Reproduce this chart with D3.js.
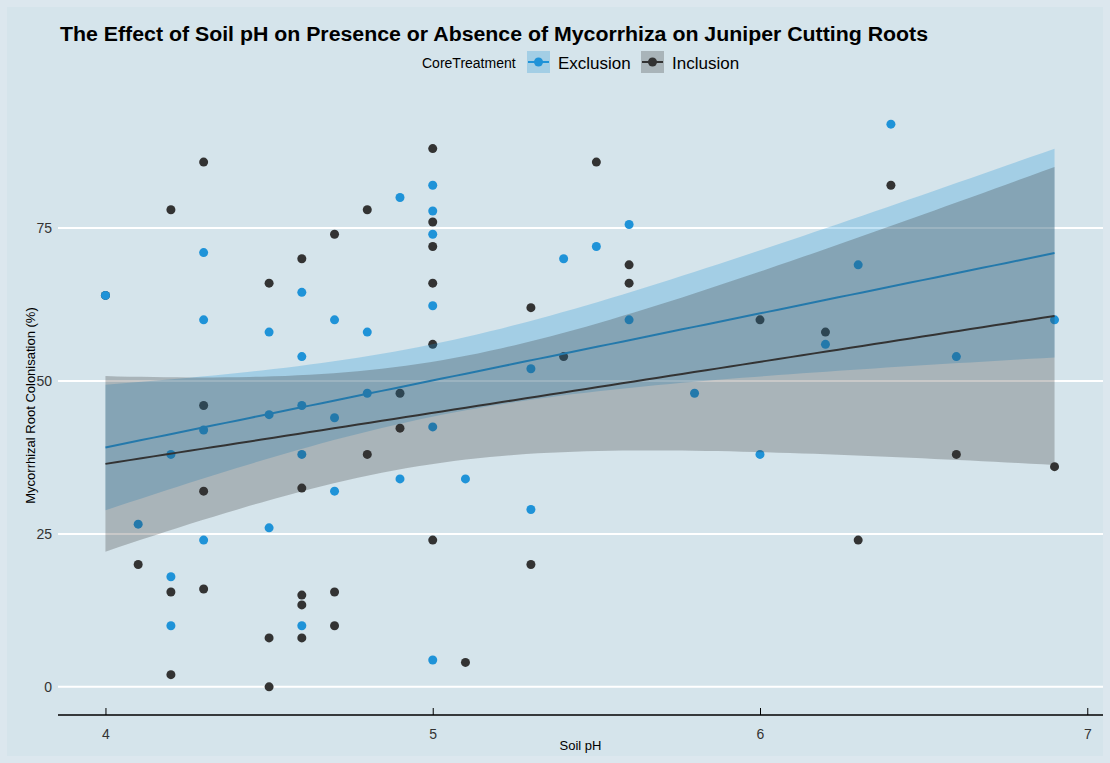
<!DOCTYPE html>
<html>
<head>
<meta charset="utf-8">
<script src="https://cdn.jsdelivr.net/npm/d3@7"></script>
<style>
  body { margin: 0; background: #dce7ee; }
  svg { display: block; font-family: "Liberation Sans", Arial, sans-serif; }
</style>
</head>
<body>
<div id="chart"></div>
<script>
const width = 1110;
const height = 763;

// data
const groups = ["Exclusion", "Inclusion"];
const groupColors = ["#1f93d8", "#333333"];

const exclusionPH = [4.0, 4.1, 4.2, 4.2, 4.2, 4.3, 4.3, 4.3, 4.3, 4.5, 4.5, 4.5,
    4.6, 4.6, 4.6, 4.6, 4.6, 4.7, 4.7, 4.7, 4.8, 4.8, 4.9, 4.9,
    5.0, 5.0, 5.0, 5.0, 5.0, 5.0, 5.1, 5.3, 5.3, 5.4, 5.5, 5.6, 5.6,
    5.8, 6.0, 6.2, 6.3, 6.4, 6.6, 6.9];
const exclusionCol = [64, 26.6, 38, 18, 10, 71, 60, 42, 24, 58, 44.5, 26,
    64.5, 54, 46, 38, 10, 60, 44, 32, 58, 48, 80, 34,
    82, 77.8, 74, 62.3, 42.5, 4.4, 34, 52, 29, 70, 72, 75.6, 60,
    48, 38, 56, 69, 92, 54, 60];

// the first inclusion point sits under the blue one at pH 4
const inclusionPH = [4.0, 4.1, 4.2, 4.2, 4.2, 4.3, 4.3, 4.3, 4.3, 4.5, 4.5, 4.5,
    4.6, 4.6, 4.6, 4.6, 4.6, 4.7, 4.7, 4.7, 4.8, 4.8, 4.9, 4.9,
    5.0, 5.0, 5.0, 5.0, 5.0, 5.0, 5.1, 5.3, 5.3, 5.4, 5.5, 5.6, 5.6,
    6.0, 6.2, 6.3, 6.4, 6.6, 6.9];
const inclusionCol = [64, 20, 78, 15.5, 2, 85.8, 46, 32, 16, 66, 8, 0,
    70, 32.5, 15, 13.4, 8, 74, 15.5, 10, 78, 38, 48, 42.3,
    88, 76, 72, 66, 56, 24, 4, 62, 20, 54, 85.8, 69, 66,
    60, 58, 24, 82, 38, 36];

const xTicks = [4, 5, 6, 7];
const yTicks = [0, 25, 50, 75];

const series = [
    { name: groups[0], color: groupColors[0], x: exclusionPH, y: exclusionCol },
    { name: groups[1], color: groupColors[1], x: inclusionPH, y: inclusionCol }
];

const panel = { left: 58, right: 1103, top: 96, bottom: 715 };

const svg = d3.select("#chart")
    .append("svg")
    .attr("width", width)
    .attr("height", height);

svg.append("rect")
    .attr("x", 7).attr("y", 7)
    .attr("width", width - 14).attr("height", height - 14)
    .attr("fill", "#d5e4eb");

const allX = exclusionPH.concat(inclusionPH);
const allY = exclusionCol.concat(inclusionCol);
const xMin = d3.min(allX), xMax = d3.max(allX);
const yMin = d3.min(allY), yMax = d3.max(allY);
const xPad = (xMax - xMin) * 0.05, yPad = (yMax - yMin) * 0.05;

const x = d3.scaleLinear()
    .domain([xMin - xPad, xMax + xPad])
    .range([panel.left, panel.right - 1]);
const y = d3.scaleLinear()
    .domain([yMin - yPad, yMax + yPad])
    .range([panel.bottom, panel.top]);

// gridlines
svg.append("g")
    .selectAll("line")
    .data(yTicks)
    .join("line")
    .attr("x1", panel.left).attr("x2", panel.right)
    .attr("y1", d => y(d)).attr("y2", d => y(d))
    .attr("stroke", "#ffffff")
    .attr("stroke-width", 2);

// y tick labels
svg.append("g")
    .selectAll("text")
    .data(yTicks)
    .join("text")
    .attr("x", 52)
    .attr("y", d => y(d) + 5)
    .attr("text-anchor", "end")
    .attr("font-size", 14)
    .attr("fill", "#333")
    .text(d => d);

// x axis
const xAxis = svg.append("g")
    .attr("transform", `translate(0,${panel.bottom})`)
    .call(d3.axisBottom(x).tickValues(xTicks).tickSize(-7).tickPadding(14).tickFormat(d3.format("d")));
xAxis.select(".domain").attr("d", `M${panel.left},0H${panel.right}`).attr("stroke", "#000").attr("stroke-width", 1.5);
xAxis.selectAll(".tick line").attr("stroke", "#000");
xAxis.selectAll(".tick text")
    .attr("font-size", 14)
    .attr("font-family", "Liberation Sans, Arial, sans-serif")
    .attr("fill", "#333");

// axis titles
svg.append("text")
    .attr("x", (panel.left + panel.right) / 2)
    .attr("y", 750)
    .attr("text-anchor", "middle")
    .attr("font-size", 13)
    .text("Soil pH");

svg.append("text")
    .attr("transform", `translate(35,${(panel.top + panel.bottom) / 2}) rotate(-90)`)
    .attr("text-anchor", "middle")
    .attr("font-size", 13)
    .text("Mycorrhizal Root Colonisation (%)");

// points (inclusion first so the blue one at pH 4 stays on top)
series.slice().reverse().forEach(s => {
    svg.append("g")
        .selectAll("circle")
        .data(s.x.map((v, i) => [v, s.y[i]]))
        .join("circle")
        .attr("cx", d => x(d[0]))
        .attr("cy", d => y(d[1]))
        .attr("r", 4.5)
        .attr("fill", s.color);
});

// linear fit with 95% confidence band
function tQuantile(df) {
    const z = 1.959964;
    return z + (z ** 3 + z) / (4 * df) + (5 * z ** 5 + 16 * z ** 3 + 3 * z) / (96 * df * df);
}

function linearFit(xs, ys) {
    const n = xs.length;
    const mx = d3.mean(xs), my = d3.mean(ys);
    const sxx = d3.sum(xs, v => (v - mx) ** 2);
    const sxy = d3.sum(xs, (v, i) => (v - mx) * (ys[i] - my));
    const b = sxy / sxx, a = my - b * mx;
    const sse = d3.sum(xs, (v, i) => (ys[i] - a - b * v) ** 2);
    const s = Math.sqrt(sse / (n - 2));
    const t = tQuantile(n - 2);
    const lo = d3.min(xs), hi = d3.max(xs);
    const grid = d3.range(80).map(i => lo + (hi - lo) * i / 79);
    return grid.map(g => {
        const fit = a + b * g;
        const se = s * Math.sqrt(1 / n + (g - mx) ** 2 / sxx);
        return { x: g, fit: fit, lo: fit - t * se, hi: fit + t * se };
    });
}

const area = d3.area()
    .x(d => x(d.x))
    .y0(d => y(d.lo))
    .y1(d => y(d.hi));
const line = d3.line()
    .x(d => x(d.x))
    .y(d => y(d.fit));

series.forEach(s => {
    const fit = linearFit(s.x, s.y);
    svg.append("path")
        .datum(fit)
        .attr("d", area)
        .attr("fill", s.color)
        .attr("fill-opacity", 0.27);
    svg.append("path")
        .datum(fit)
        .attr("d", line)
        .attr("fill", "none")
        .attr("stroke", s.color)
        .attr("stroke-width", 2);
});

// title
svg.append("text")
    .attr("x", 60)
    .attr("y", 41)
    .attr("font-size", 20)
    .attr("font-weight", "bold")
    .attr("textLength", 868)
    .attr("lengthAdjust", "spacingAndGlyphs")
    .text("The Effect of Soil pH on Presence or Absence of Mycorrhiza on Juniper Cutting Roots");

// legend
const legend = svg.append("g");
legend.append("text")
    .attr("x", 422).attr("y", 68)
    .attr("font-size", 14)
    .text("CoreTreatment");

const keyX = [527, 641];
series.forEach((s, i) => {
    const g = legend.append("g").attr("transform", `translate(${keyX[i]},51)`);
    g.append("rect")
        .attr("width", 23).attr("height", 22)
        .attr("fill", s.color).attr("fill-opacity", 0.27);
    g.append("line")
        .attr("x1", 1).attr("x2", 22).attr("y1", 11).attr("y2", 11)
        .attr("stroke", s.color).attr("stroke-width", 2);
    g.append("circle")
        .attr("cx", 11.5).attr("cy", 11).attr("r", 4.5)
        .attr("fill", s.color);
    g.append("text")
        .attr("x", 31).attr("y", 18)
        .attr("font-size", 17)
        .text(s.name);
});
</script>
</body>
</html>
